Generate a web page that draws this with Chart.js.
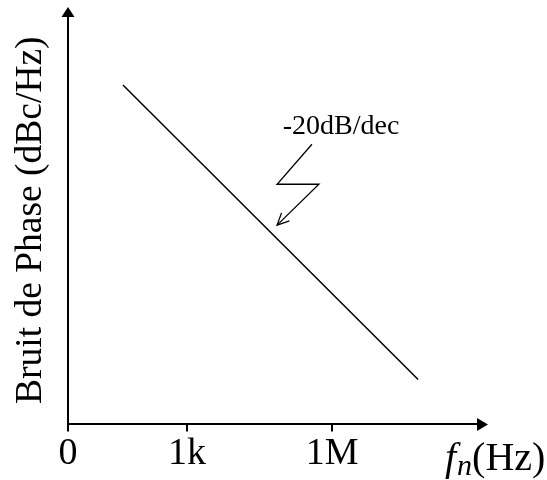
<!DOCTYPE html>
<html>
<head>
<meta charset="utf-8">
<script src="https://cdn.jsdelivr.net/npm/chart.js@4.4.1/dist/chart.umd.min.js"></script>
<style>
  html, body { margin: 0; padding: 0; background: #fff; }
</style>
</head>
<body>
<canvas id="chart-area" width="547" height="480"></canvas>
<script>
// x is an abstract frequency position (0..100), y an abstract noise level (0..100)
var tickLabels = ['0', '1k', '1M'];
var tickValues = [0, 29.0, 64.4];
var freqPos = [13.4, 85.4];
var noiseLevel = [83.1, 11.0];

var slopeLabel = '-20dB/dec';
// zigzag pointer, in the same data units as the line
var zigX = [59.5, 51.0, 61.2, 51.0];
var zigY = [68.6, 58.8, 58.8, 48.8];

var serif = "'Liberation Serif', 'Times New Roman', serif";

var points = freqPos.map(function(x, i) {
	return { x: x, y: noiseLevel[i] };
});

var drawExtras = {
	id: 'drawExtras',
	afterDraw: function(chart) {
		var ctx = chart.ctx;
		var area = chart.chartArea;
		var xs = chart.scales.x;
		var ys = chart.scales.y;
		ctx.save();
		ctx.fillStyle = '#000';
		ctx.strokeStyle = '#000';

		// arrow heads on the axes
		ctx.beginPath();
		ctx.moveTo(area.left, area.top - 9);
		ctx.lineTo(area.left - 6.5, area.top + 1);
		ctx.lineTo(area.left + 6.5, area.top + 1);
		ctx.closePath();
		ctx.fill();
		ctx.beginPath();
		ctx.moveTo(area.right + 10, area.bottom);
		ctx.lineTo(area.right - 1, area.bottom - 6.5);
		ctx.lineTo(area.right - 1, area.bottom + 6.5);
		ctx.closePath();
		ctx.fill();

		// slope annotation
		ctx.font = '28px ' + serif;
		ctx.textAlign = 'center';
		ctx.textBaseline = 'alphabetic';
		ctx.fillText(slopeLabel, xs.getPixelForValue(66.6), ys.getPixelForValue(71.0));

		ctx.lineWidth = 1.3;
		ctx.beginPath();
		for (var i = 0; i < zigX.length; i++) {
			var px = xs.getPixelForValue(zigX[i]);
			var py = ys.getPixelForValue(zigY[i]);
			if (i === 0) ctx.moveTo(px, py); else ctx.lineTo(px, py);
		}
		ctx.stroke();
		var n = zigX.length;
		var tx = xs.getPixelForValue(zigX[n - 1]);
		var ty = ys.getPixelForValue(zigY[n - 1]);
		var ang = Math.atan2(ty - ys.getPixelForValue(zigY[n - 2]), tx - xs.getPixelForValue(zigX[n - 2]));
		ctx.beginPath();
		ctx.moveTo(tx - 13 * Math.cos(ang - 0.45), ty - 13 * Math.sin(ang - 0.45));
		ctx.lineTo(tx, ty);
		ctx.lineTo(tx - 13 * Math.cos(ang + 0.45), ty - 13 * Math.sin(ang + 0.45));
		ctx.stroke();

		// x axis name: f_n(Hz)
		var base = area.bottom + 46;
		var x0 = area.right - 33;
		ctx.textAlign = 'left';
		ctx.font = 'italic 40px ' + serif;
		ctx.fillText('f', x0, base);
		x0 += ctx.measureText('f').width + 1;
		ctx.font = 'italic 30px ' + serif;
		ctx.fillText('n', x0, base + 5);
		x0 += ctx.measureText('n').width;
		ctx.font = '40px ' + serif;
		ctx.fillText('(Hz)', x0, base);
		ctx.restore();
	}
};

var config = {
	type: 'line',
	data: {
		datasets: [{
			data: points,
			borderColor: '#000',
			borderWidth: 1.5,
			pointRadius: 0,
			fill: false,
			tension: 0
		}]
	},
	options: {
		responsive: false,
		animation: false,
		events: [],
		layout: {
			padding: { left: 5, right: 69, top: 16, bottom: 3 }
		},
		plugins: {
			legend: { display: false },
			tooltip: { enabled: false }
		},
		scales: {
			x: {
				type: 'linear',
				min: 0,
				max: 100,
				afterBuildTicks: function(scale) {
					scale.ticks = tickValues.map(function(v) { return { value: v }; });
				},
				ticks: {
					autoSkip: false,
					maxRotation: 0,
					padding: 0,
					color: '#000',
					font: { family: serif, size: 38 },
					callback: function(value, index) { return tickLabels[index]; }
				},
				grid: {
					drawOnChartArea: false,
					drawTicks: true,
					tickLength: 7,
					color: '#000',
					lineWidth: 2
				},
				border: { display: true, color: '#000', width: 2 }
			},
			y: {
				type: 'linear',
				min: 0,
				max: 100,
				ticks: { display: false },
				grid: { display: false, drawTicks: false },
				border: { display: true, color: '#000', width: 2 },
				title: {
					display: true,
					text: 'Bruit de Phase (dBc/Hz)',
					color: '#000',
					font: { family: serif, size: 37.5 },
					padding: { top: 4, bottom: 14 }
				}
			}
		}
	},
	plugins: [drawExtras]
};

window.onload = function() {
	var ctx = document.getElementById('chart-area').getContext('2d');
	window.myChart = new Chart(ctx, config);
};
</script>
</body>
</html>
